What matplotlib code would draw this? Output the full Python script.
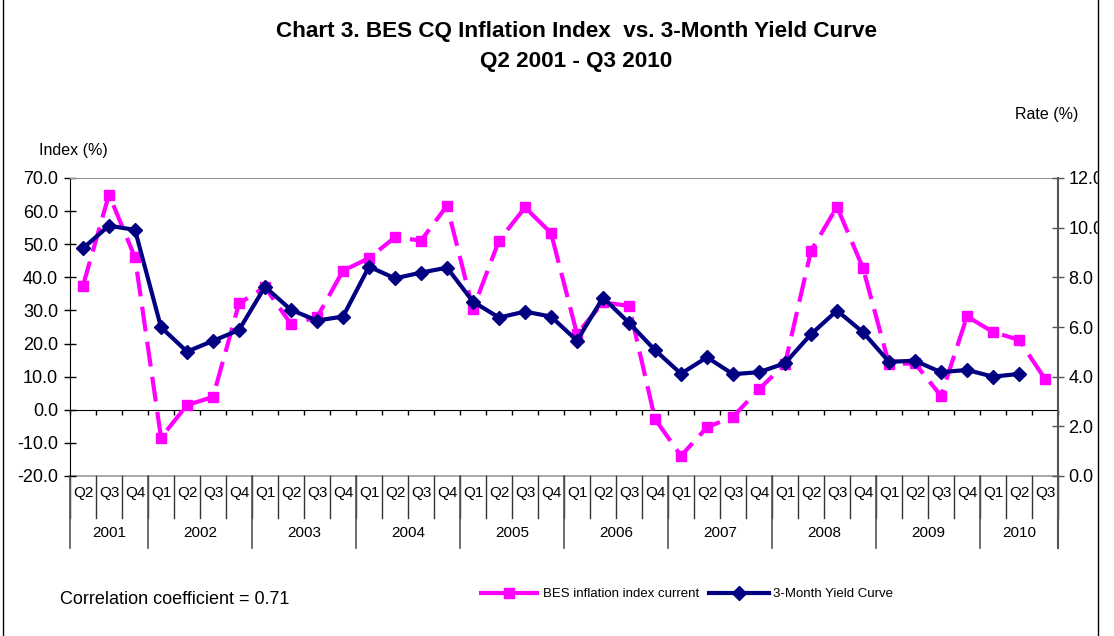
import numpy as np
import matplotlib
matplotlib.use("Agg")
import matplotlib.pyplot as plt
import matplotlib.transforms as mtransforms
from matplotlib.patches import Rectangle
from matplotlib.lines import Line2D

plt.rcParams["font.family"] = ["Liberation Sans", "DejaVu Sans"]

# quarters Q2 2001 .. Q3 2010
years = ["2001", "2002", "2003", "2004", "2005", "2006", "2007", "2008", "2009", "2010"]
quarters_per_year = [3, 4, 4, 4, 4, 4, 4, 4, 4, 3]
quarter_labels = (["Q2", "Q3", "Q4"] + ["Q1", "Q2", "Q3", "Q4"] * 8 + ["Q1", "Q2", "Q3"])

# BES inflation index (left axis, %)
bes_index = [37.5, 65.0, 46.0, -8.4, 1.4, 3.9, 32.1,
             37.0, 25.9, 27.9, 42.0,
             45.8, 52.1, 51.1, 61.6,
             30.4, 51.1, 61.1, 53.4,
             22.9, 32.4, 31.4, -2.8,
             -13.9, -5.3, -2.1, 6.2,
             13.8, 48.0, 61.3, 42.8,
             13.8, 14.0, 4.2, 28.2,
             23.5, 21.1, 9.3]

# 3-month yield curve (right axis, %)
yield_3m = [9.17, 10.08, 9.91, 5.99, 5.01, 5.44, 5.88,
            7.62, 6.69, 6.26, 6.42,
            8.43, 7.96, 8.19, 8.39,
            7.02, 6.38, 6.62, 6.42,
            5.45, 7.18, 6.17, 5.07,
            4.12, 4.78, 4.10, 4.18,
            4.54, 5.71, 6.66, 5.79,
            4.60, 4.64, 4.18, 4.27,
            4.00, 4.11, np.nan]

MAGENTA = "#FF00FF"
NAVY = "#000080"

x = np.arange(len(quarter_labels))

fig = plt.figure(figsize=(11.14, 6.36), dpi=100)
ax = fig.add_axes([70 / 1114, 1 - 476 / 636, 988 / 1114, 298 / 636])
ax2 = ax.twinx()

ax.plot(x, bes_index, color=MAGENTA, lw=3, dashes=(6, 2.5), marker="s",
        markersize=7.5, markeredgecolor=MAGENTA, markerfacecolor=MAGENTA,
        label="BES inflation index current", zorder=3)
ax2.plot(x, yield_3m, color=NAVY, lw=3, marker="D", markersize=7,
         markeredgecolor=NAVY, markerfacecolor=NAVY,
         label="3-Month Yield Curve", zorder=4)

ax.set_xlim(-0.5, len(x) - 0.5)
ax.set_ylim(-20, 70)
ax.set_yticks(np.arange(-20, 71, 10))
ax.set_yticklabels([f"{v:.1f}" for v in np.arange(-20, 71, 10)])
ax2.set_ylim(0, 12)
ax2.set_yticks(np.arange(0, 13, 2))
ax2.set_yticklabels([f"{v:.1f}" for v in np.arange(0, 13, 2)])

# category axis sits at zero
ax.spines["bottom"].set_position(("data", 0))
ax.spines["bottom"].set_color("black")
ax.set_xticks(np.arange(-0.5, len(x), 1))
ax.set_xticklabels([])
ax.tick_params(axis="x", direction="out", length=3.6, width=1, color="black")
ax.axhline(-20, color="#999999", lw=1.2, clip_on=False, zorder=1)

ax.spines["top"].set_color("#999999")
ax.spines["left"].set_color("black")
ax.spines["right"].set_visible(False)
for s in ["top", "bottom", "left"]:
    ax2.spines[s].set_visible(False)
ax2.spines["right"].set_color("#555555")
ax2.spines["right"].set_linewidth(1.5)

ax.tick_params(axis="y", direction="inout", length=9, width=1, labelsize=13, pad=4)
ax2.tick_params(axis="y", direction="inout", length=9, width=1, color="#555555",
                labelsize=13, pad=3)

# multi-level category labels below the plot
trans = mtransforms.blended_transform_factory(ax.transData, ax.transAxes)
for i, q in enumerate(quarter_labels):
    ax.text(i, -0.057, q, transform=trans, ha="center", va="center", fontsize=11)
for b in np.arange(-0.5, len(x), 1):
    ax.plot([b, b], [0, -0.141], transform=trans, color="#333333", lw=1, clip_on=False)
start = 0
for yr, n in zip(years, quarters_per_year):
    ax.plot([start - 0.5, start - 0.5], [0, -0.242], transform=trans,
            color="#555555", lw=1.2, clip_on=False)
    ax.text(start + (n - 1) / 2, -0.191, yr, transform=trans, ha="center",
            va="center", fontsize=11)
    start += n
ax.plot([start - 0.5, start - 0.5], [0, -0.242], transform=trans,
        color="#555555", lw=1.5, clip_on=False)

# titles and axis captions
fig.text(576 / 1114, 1 - 32 / 636, "Chart 3. BES CQ Inflation Index  vs. 3-Month Yield Curve",
         ha="center", va="center", fontsize=16.2, fontweight="bold")
fig.text(576 / 1114, 1 - 61 / 636, "Q2 2001 - Q3 2010",
         ha="center", va="center", fontsize=16.2, fontweight="bold")
fig.text(73 / 1114, 1 - 151 / 636, "Index (%)", ha="center", va="center", fontsize=11.5)
fig.text(1047 / 1114, 1 - 115 / 636, "Rate (%)", ha="center", va="center", fontsize=11.5)
fig.text(60 / 1114, 1 - 599 / 636, "Correlation coefficient = 0.71",
         ha="left", va="center", fontsize=13)

h1, l1 = ax.get_legend_handles_labels()
h2, l2 = ax2.get_legend_handles_labels()
fig.legend(h1 + h2, l1 + l2, loc="center", bbox_to_anchor=(686 / 1114, 1 - 594 / 636),
           ncol=2, frameon=False, fontsize=9.5, handlelength=4.5,
           handletextpad=0.3, columnspacing=0.8)

# chart frame, right side clipped like the original
fig.patches.append(Rectangle((1098 / 1114, 0), 1, 1, transform=fig.transFigure,
                             facecolor="white", edgecolor="none", zorder=10))
fig.lines.append(Line2D([1098 / 1114] * 2, [0, 1], transform=fig.transFigure,
                        color="black", lw=1, zorder=11))
fig.lines.append(Line2D([3 / 1114] * 2, [0, 1], transform=fig.transFigure,
                        color="black", lw=1, zorder=11))

fig.savefig("out.png", dpi=100)
